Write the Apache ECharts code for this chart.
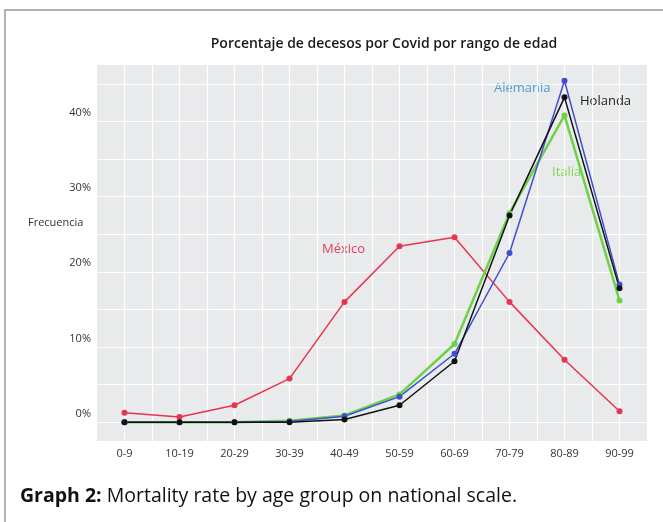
<!DOCTYPE html>
<html>
<head>
<meta charset="utf-8">
<script src="https://cdn.jsdelivr.net/npm/echarts@6/dist/echarts.min.js"></script>
<style>
  html, body { margin: 0; padding: 0; background: #fff; }
  #chart { width: 663px; height: 522px; }
</style>
</head>
<body>
<div id="chart"></div>
<script>
// rangos de edad
var ageGroups = ['0-9', '10-19', '20-29', '30-39', '40-49', '50-59', '60-69', '70-79', '80-89', '90-99'];
// porcentaje de decesos (%)
var mexico   = [1.25, 0.7, 2.25, 5.8, 16.0, 23.4, 24.6, 16.0, 8.3, 1.45];
var italia   = [0, 0, 0, 0.2, 0.9, 3.7, 10.4, 27.8, 40.8, 16.2];
var alemania = [0, 0, 0, 0.1, 0.8, 3.4, 9.1, 22.5, 45.4, 18.3];
var holanda  = [0, 0, 0, 0, 0.35, 2.25, 8.1, 27.5, 43.2, 17.8];

var chart = echarts.init(document.getElementById('chart'));

function lineSeries(name, data, color, width, size) {
  return {
    name: name,
    type: 'line',
    xAxisIndex: 0,
    data: data,
    symbol: 'circle',
    symbolSize: size,
    itemStyle: { color: color },
    lineStyle: { color: color, width: width },
    emphasis: { disabled: true }
  };
}

var option = {
  animation: false,
  backgroundColor: '#fff',
  textStyle: { fontFamily: 'Open Sans' },
  title: {
    text: 'Porcentaje de decesos por Covid por rango de edad',
    left: 379,
    top: 32,
    textAlign: 'center',
    textStyle: { fontSize: 14, fontWeight: 600, color: '#1a1a1a', fontFamily: 'Open Sans' }
  },
  grid: {
    left: 97,
    right: 16,
    top: 65,
    bottom: 81,
    show: true,
    backgroundColor: '#e8eaeb',
    borderWidth: 0
  },
  xAxis: [
    {
      type: 'category',
      data: ageGroups,
      boundaryGap: true,
      axisLine: { show: false },
      axisTick: { show: false },
      splitLine: { show: false },
      axisLabel: { color: '#333', fontSize: 11, margin: 7 }
    },
    {
      // solo para la cuadrícula vertical
      type: 'value',
      position: 'top',
      min: -0.5,
      max: 9.5,
      interval: 0.5,
      axisLine: { show: false },
      axisTick: { show: false },
      axisLabel: { show: false },
      splitLine: { show: true, showMinLine: false, showMaxLine: false, lineStyle: { color: '#fff', width: 1.2 } }
    }
  ],
  yAxis: {
    type: 'value',
    min: -2.5,
    max: 47.5,
    interval: 2.5,
    axisLine: { show: false },
    axisTick: { show: false },
    axisLabel: {
      color: '#333',
      fontSize: 11,
      margin: 6,
      verticalAlign: 'bottom',
      padding: [0, 0, 3, 0],
      formatter: function (v) {
        return Math.abs(v % 10) < 1e-6 ? v + '%' : '';
      }
    },
    splitLine: {
      show: true,
      lineStyle: { color: ['rgba(255,255,255,0)', '#ffffff'], width: 1.2 }
    }
  },
  series: [
    lineSeries('México', mexico, '#e8344e', 1.5, 6),
    lineSeries('Italia', italia, '#6fd04a', 2.5, 6),
    lineSeries('Alemania', alemania, '#3f4fcf', 1.5, 6),
    lineSeries('Holanda', holanda, '#111111', 1.5, 6)
  ],
  graphic: [
    {
      type: 'rect',
      silent: true,
      shape: { x: 5, y: 10, width: 700, height: 560 },
      style: { fill: 'none', stroke: '#9a9a9a', lineWidth: 1.5 }
    },
    {
      type: 'text', left: 28, top: 217,
      style: { text: 'Frecuencia', fill: '#333', font: '11px "Open Sans"' }
    },
    {
      type: 'text', left: 494, top: 82,
      style: { text: 'Alemania', fill: '#4a9ad8', font: '13px "Open Sans"' }
    },
    {
      type: 'text', left: 580, top: 95,
      style: { text: 'Holanda', fill: '#222', font: '13px "Open Sans"' }
    },
    {
      type: 'text', left: 552, top: 166,
      style: { text: 'Italia', fill: '#7ed957', font: '13px "Open Sans"' }
    },
    {
      type: 'text', left: 322, top: 243,
      style: { text: 'México', fill: '#e0405a', font: '13px "Open Sans"' }
    },
    {
      type: 'text', left: 20, top: 486,
      style: {
        text: '{b|Graph 2:} Mortality rate by age group on national scale.',
        fill: '#111',
        font: '19.5px "Open Sans"',
        rich: { b: { fontWeight: 'bold', fontSize: 19.5, fontFamily: 'Open Sans', fill: '#111' } }
      }
    }
  ]
};

chart.setOption(option);
</script>
</body>
</html>
